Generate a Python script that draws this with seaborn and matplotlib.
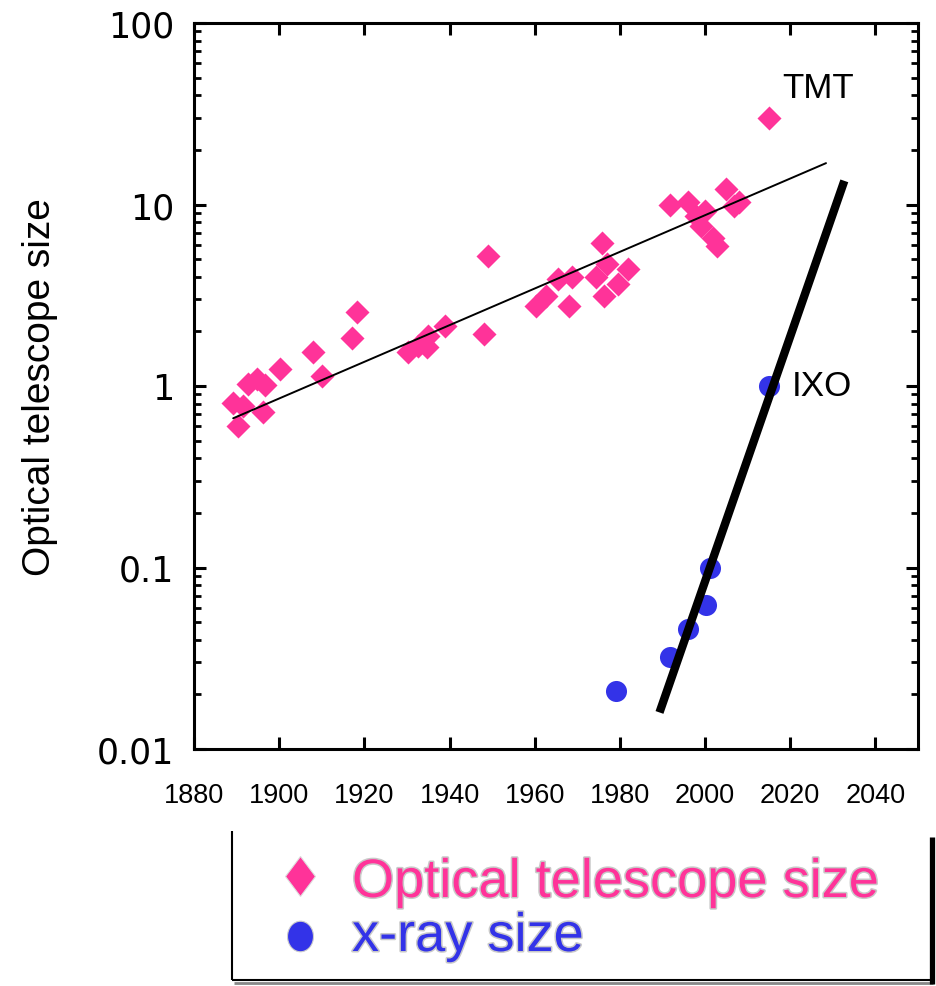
import numpy as np
import pandas as pd
import matplotlib
matplotlib.use("Agg")
import matplotlib.pyplot as plt
import seaborn as sns
from matplotlib.ticker import LogLocator, FixedLocator, FixedFormatter, NullLocator, NullFormatter
from matplotlib.markers import MarkerStyle
from matplotlib.transforms import Affine2D
import matplotlib.patheffects as pe
from matplotlib import font_manager as fm

# ---------------- data ----------------
optical_year = [1889.2, 1890.4, 1891.6, 1892.7, 1894.7, 1896.7, 1896.3, 1900.2,
                1908.0, 1910.0, 1917.2, 1918.2,
                1930.3, 1932.6, 1934.6, 1935.0, 1938.9, 1948.0, 1949.0,
                1960.4, 1962.7, 1965.5, 1968.0, 1968.7,
                1974.5, 1975.7, 1976.2, 1976.9, 1979.5, 1981.9,
                1991.7, 1996.0, 1997.9, 2000.0, 1999.0, 2001.9, 2002.8,
                2005.0, 2006.9, 2008.0, 2014.9]
optical_size = [0.81, 0.60, 0.78, 1.03, 1.09, 1.01, 0.72, 1.24,
                1.53, 1.14, 1.83, 2.57,
                1.53, 1.67, 1.63, 1.89, 2.15, 1.93, 5.2,
                2.77, 3.14, 3.88, 2.76, 3.98,
                3.98, 6.1, 3.13, 4.7, 3.65, 4.4,
                9.9, 10.3, 8.6, 9.2, 7.6, 6.5, 5.9,
                12.2, 9.8, 10.3, 30.0]

xray_year = [1979.2, 1991.8, 1996.1, 2000.3, 2001.1, 2014.9]
xray_size = [0.021, 0.032, 0.046, 0.062, 0.10, 1.0]

optical_fit_year = [1889.2, 2028.4]
optical_fit_size = [0.664, 16.9]
xray_fit_year = [1989.3, 2032.7]
xray_fit_size = [0.0159, 13.5]

x_ticks = [1880, 1900, 1920, 1940, 1960, 1980, 2000, 2020, 2040]
y_ticks = [0.01, 0.1, 1, 10, 100]
y_tick_labels = ["0.01", "0.1", "1", "10", "100"]

labels = {"TMT": (2014.9, 30.0), "IXO": (2014.9, 1.0)}

ylabel = "Optical telescope size"
legend_labels = ["Optical telescope size", "x-ray size"]

PINK = "#FF3399"
BLUE = "#3333E8"

# ---------------- style ----------------
sns.set_style("white")
plt.rcParams["font.family"] = ["Liberation Sans", "DejaVu Sans"]
for k in ["text.color", "axes.labelcolor", "xtick.color", "ytick.color", "axes.edgecolor"]:
    plt.rcParams[k] = "black"
names = {f.name for f in fm.fontManager.ttflist}
NARROW = "Liberation Sans Narrow" if "Liberation Sans Narrow" in names else "Liberation Sans"
narrow_scale = 1.0 if NARROW == "Liberation Sans Narrow" else 0.87

W, H = 937, 987
fig = plt.figure(figsize=(W / 100, H / 100), dpi=100)
ax = fig.add_axes([194 / W, 1 - 750 / H, (918 - 194) / W, (750 - 24) / H])

opt_df = pd.DataFrame({"year": optical_year, "size": optical_size})
xr_df = pd.DataFrame({"year": xray_year, "size": xray_size})

sns.scatterplot(data=opt_df, x="year", y="size", marker="D", s=150, color=PINK,
                linewidth=0, ax=ax, zorder=2)
sns.scatterplot(data=xr_df, x="year", y="size", marker="o", s=230, color=BLUE,
                linewidth=0, ax=ax, zorder=2)

ax.set_yscale("log")
ax.plot(optical_fit_year, optical_fit_size, color="black", lw=1.4, zorder=3)
ax.plot(xray_fit_year, xray_fit_size, color="black", lw=6.0, zorder=3,
        solid_capstyle="butt")

ax.set_xlim(1880, 2050)
ax.set_ylim(0.01, 100)

ax.xaxis.set_major_locator(FixedLocator(x_ticks))
ax.xaxis.set_minor_locator(NullLocator())
ax.yaxis.set_major_locator(FixedLocator(y_ticks))
ax.yaxis.set_major_formatter(FixedFormatter(y_tick_labels))
ax.yaxis.set_minor_locator(LogLocator(base=10, subs=np.arange(2, 10), numticks=20))
ax.yaxis.set_minor_formatter(NullFormatter())

for sp in ax.spines.values():
    sp.set_visible(True)
    sp.set_linewidth(2.2)
    sp.set_color("black")

ax.tick_params(which="both", direction="in", top=True, right=True, bottom=True, left=True,
               color="black", labelcolor="black")
ax.tick_params(which="major", length=8.6, width=2.2)
ax.tick_params(which="minor", length=5.0, width=2.0)
ax.tick_params(axis="x", which="major", pad=24, labelsize=19.5)
ax.tick_params(axis="y", which="major", pad=14, labelsize=25)
for t in ax.get_yticklabels():
    t.set_fontfamily("DejaVu Sans")

ax.set_xlabel("")
ax.set_ylabel(ylabel, fontsize=28, fontfamily="Liberation Sans")
ax.yaxis.set_label_coords((40 - 194) / (918 - 194), 0.5)
ax.yaxis.label.set_verticalalignment("center")

ax.annotate("TMT", xy=labels["TMT"], xytext=(10, 22), textcoords="offset points",
            ha="left", va="center", fontsize=29 * narrow_scale, fontfamily=NARROW)
ax.annotate("IXO", xy=labels["IXO"], xytext=(17, 0), textcoords="offset points",
            ha="left", va="center", fontsize=29 * narrow_scale, fontfamily=NARROW)

# ---------------- legend box (pixel overlay) ----------------
ov = fig.add_axes([0, 0, 1, 1], facecolor="none")
ov.set_xlim(0, W)
ov.set_ylim(H, 0)
ov.axis("off")
ov.plot([232, 232], [832, 981], color="black", lw=1.5, solid_capstyle="butt")
ov.plot([232, 931], [981, 981], color="black", lw=1.5, solid_capstyle="butt")
ov.plot([234, 933], [984, 984], color="#888888", lw=2.0, solid_capstyle="butt")
ov.plot([932, 932], [838, 985], color="black", lw=3.8, solid_capstyle="butt")

diamond = MarkerStyle("D", transform=Affine2D().scale(0.78, 1.0))
ellipse = MarkerStyle("o", transform=Affine2D().scale(0.85, 1.0))
ov.plot([300], [877], marker=diamond, ms=20, color=PINK, mec="#dddddd", mew=0.8, ls="none")
ov.plot([300], [937], marker=ellipse, ms=22, color=BLUE, mec="#cccccc", mew=0.8, ls="none")
halo = [pe.withStroke(linewidth=2.2, foreground="#c9c9c9")]
ov.text(352, 898, legend_labels[0], color=PINK, fontsize=39, ha="left", va="baseline",
        fontfamily="Liberation Sans", path_effects=halo)
ov.text(352, 952, legend_labels[1], color=BLUE, fontsize=39, ha="left", va="baseline",
        fontfamily="Liberation Sans", path_effects=halo)

fig.savefig("out.png", dpi=100)
